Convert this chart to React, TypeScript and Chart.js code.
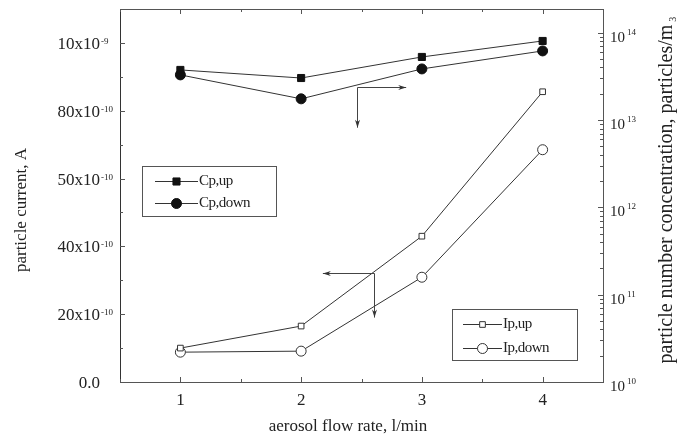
import React, { useEffect, useRef } from 'react';
import { Chart, registerables } from 'chart.js';
Chart.register(...registerables);

// ---- data ----
const flowRates = [1, 2, 3, 4]; // l/min
const ipUp = [10, 16.5, 43, 85.6]; // x10^-10 A
const ipDown = [8.8, 9.1, 30.9, 68.5]; // x10^-10 A
const cpUp = [3.75e13, 3.03e13, 5.28e13, 8.05e13]; // particles/m^3
const cpDown = [3.29e13, 1.75e13, 3.85e13, 6.19e13]; // particles/m^3

const xTicks = [1, 2, 3, 4];
const xMinorTicks = [0.5, 1.5, 2.5, 3.5, 4.5];
const leftTicks = [0, 20, 40, 60, 80, 100];
const leftTickMain = ['0.0', '20x10', '40x10', '50x10', '80x10', '10x10'];
const leftTickSup = ['', '-10', '-10', '-10', '-10', '-9'];
const leftMinorTicks = [10, 30, 50, 70, 90];
const rightTickExps = [10, 11, 12, 13, 14];

// annotation arrows in data units (x axis, left axis)
const cpArrowFrom = [2.46, 87];
const cpArrowTo = [2.87, 75];
const ipArrowFrom = [2.6, 32];
const ipArrowTo = [2.18, 19];

const serif = '"Liberation Serif", "Times New Roman", serif';
const ink = '#222';
const axisColor = '#555';
const lineColor = '#333';

function drawMarker(ctx: CanvasRenderingContext2D, style: string, x: number, y: number, r: number, filled: boolean) {
  ctx.save();
  ctx.beginPath();
  if (style === 'rect') {
    const s = r * Math.SQRT1_2;
    ctx.rect(x - s, y - s, 2 * s, 2 * s);
  } else {
    ctx.arc(x, y, r, 0, Math.PI * 2);
  }
  ctx.fillStyle = filled ? '#111' : '#fff';
  ctx.fill();
  ctx.lineWidth = 1;
  ctx.strokeStyle = filled ? '#111' : lineColor;
  ctx.stroke();
  ctx.restore();
}

function arrowHead(ctx: CanvasRenderingContext2D, x: number, y: number, dx: number, dy: number) {
  const len = 8, half = 2.5;
  const nx = -dy, ny = dx;
  ctx.beginPath();
  ctx.moveTo(x, y);
  ctx.lineTo(x - dx * len + nx * half, y - dy * len + ny * half);
  ctx.lineTo(x - dx * len * 0.7, y - dy * len * 0.7);
  ctx.lineTo(x - dx * len - nx * half, y - dy * len - ny * half);
  ctx.closePath();
  ctx.fill();
}

const decor = {
  id: 'decor',
  afterDraw(chart: any) {
    const ctx: CanvasRenderingContext2D = chart.ctx;
    const { left, right, top, bottom } = chart.chartArea;
    const xs = chart.scales.x, ys = chart.scales.y, y1 = chart.scales.y1;
    const R = (v: number) => Math.round(v) + 0.5;
    ctx.save();
    // frame
    ctx.strokeStyle = axisColor;
    ctx.lineWidth = 1;
    ctx.strokeRect(R(left), R(top), Math.round(right - left), Math.round(bottom - top));
    ctx.strokeStyle = '#333';
    ctx.beginPath();
    ctx.moveTo(R(left), R(top));
    ctx.lineTo(R(left), R(bottom));
    ctx.stroke();

    // x ticks (bottom and top, inward)
    ctx.strokeStyle = axisColor;
    ctx.beginPath();
    xTicks.forEach(v => {
      const px = R(xs.getPixelForValue(v));
      ctx.moveTo(px, bottom); ctx.lineTo(px, bottom - 5);
      ctx.moveTo(px, top); ctx.lineTo(px, top + 5);
    });
    xMinorTicks.forEach(v => {
      const px = R(xs.getPixelForValue(v));
      ctx.moveTo(px, bottom); ctx.lineTo(px, bottom - 3);
      ctx.moveTo(px, top); ctx.lineTo(px, top + 3);
    });
    // left ticks
    leftTicks.forEach(v => {
      const py = R(ys.getPixelForValue(v));
      ctx.moveTo(left, py); ctx.lineTo(left + 5, py);
    });
    leftMinorTicks.forEach(v => {
      const py = R(ys.getPixelForValue(v));
      ctx.moveTo(left, py); ctx.lineTo(left + 3, py);
    });
    // right log ticks
    rightTickExps.forEach(e => {
      const py = R(y1.getPixelForValue(Math.pow(10, e)));
      ctx.moveTo(right, py); ctx.lineTo(right - 5, py);
      for (let m = 2; m <= 9; m++) {
        const v = m * Math.pow(10, e);
        if (v > y1.max) break;
        const pm = R(y1.getPixelForValue(v));
        ctx.moveTo(right, pm); ctx.lineTo(right - 3, pm);
      }
    });
    ctx.stroke();

    // tick labels
    ctx.fillStyle = ink;
    ctx.textBaseline = 'alphabetic';
    xTicks.forEach(v => {
      ctx.font = `17px ${serif}`;
      ctx.textAlign = 'center';
      ctx.fillText(String(v), xs.getPixelForValue(v), 405);
    });
    leftTicks.forEach((v, i) => {
      const py = ys.getPixelForValue(v);
      ctx.font = `17px ${serif}`;
      ctx.textAlign = 'right';
      ctx.fillText(leftTickMain[i], 100, py + 6);
      if (leftTickSup[i]) {
        ctx.font = `9px ${serif}`;
        ctx.textAlign = 'left';
        ctx.fillText(leftTickSup[i], 101, py + 1);
      }
    });
    rightTickExps.forEach(e => {
      const py = y1.getPixelForValue(Math.pow(10, e));
      ctx.textAlign = 'left';
      ctx.font = `15px ${serif}`;
      ctx.fillText('10', 610, py + 9);
      ctx.font = `9px ${serif}`;
      ctx.fillText(String(e), 627, py + 2);
    });

    // axis titles
    ctx.font = `17px ${serif}`;
    ctx.textAlign = 'center';
    ctx.textBaseline = 'middle';
    ctx.fillText('aerosol flow rate, l/min', 348, 427);
    ctx.save();
    ctx.translate(22, 210);
    ctx.rotate(-Math.PI / 2);
    ctx.fillText('particle current, A', 0, 0);
    ctx.restore();
    ctx.save();
    ctx.translate(667, 194);
    ctx.rotate(-Math.PI / 2);
    ctx.font = `20px ${serif}`;
    const rt = 'particle number concentration, particles/m';
    ctx.fillText(rt, 0, 0);
    const w = ctx.measureText(rt).width;
    ctx.font = `10px ${serif}`;
    ctx.textAlign = 'left';
    ctx.fillText('3', w / 2 + 3, 6);
    ctx.restore();

    // arrows
    ctx.strokeStyle = '#444';
    ctx.fillStyle = '#333';
    const drawArrowPair = (from: number[], to: number[]) => {
      const fx = R(xs.getPixelForValue(from[0]));
      const fy = R(ys.getPixelForValue(from[1]));
      const tx = xs.getPixelForValue(to[0]);
      const ty = ys.getPixelForValue(to[1]);
      ctx.beginPath();
      ctx.moveTo(fx, fy); ctx.lineTo(tx, fy);
      ctx.moveTo(fx, fy); ctx.lineTo(fx, ty);
      ctx.stroke();
      arrowHead(ctx, tx, fy, tx > fx ? 1 : -1, 0);
      arrowHead(ctx, fx, ty, 0, 1);
    };
    drawArrowPair(cpArrowFrom, cpArrowTo);
    drawArrowPair(ipArrowFrom, ipArrowTo);

    // legends
    const legendBox = (x0: number, y0: number, x1: number, y1b: number, rows: number[], lx0: number, lx1: number, entries: any[]) => {
      ctx.fillStyle = '#fff';
      ctx.fillRect(x0, y0, x1 - x0, y1b - y0);
      ctx.strokeStyle = axisColor;
      ctx.strokeRect(x0 + 0.5, y0 + 0.5, x1 - x0, y1b - y0);
      entries.forEach((en, i) => {
        const yy = rows[i] + 0.5;
        ctx.strokeStyle = lineColor;
        ctx.beginPath();
        ctx.moveTo(lx0, yy); ctx.lineTo(lx1, yy);
        ctx.stroke();
        drawMarker(ctx, en.style, (lx0 + lx1) / 2, yy, en.r, en.filled);
        ctx.fillStyle = ink;
        ctx.font = `15px ${serif}`;
        ctx.textAlign = 'left';
        ctx.textBaseline = 'middle';
        (ctx as any).letterSpacing = '-0.5px';
        ctx.fillText(en.label, lx1 + 1, yy);
        (ctx as any).letterSpacing = '0px';
      });
    };
    const ds = chart.data.datasets;
    legendBox(142, 166, 276, 216, [181, 203], 155, 198, [
      { label: ds[0].label, style: 'rect', r: 5, filled: true },
      { label: ds[1].label, style: 'circle', r: 5, filled: true },
    ]);
    legendBox(452, 309, 577, 360, [324, 348], 463, 502, [
      { label: ds[2].label, style: 'rect', r: 4, filled: false },
      { label: ds[3].label, style: 'circle', r: 5, filled: false },
    ]);
    ctx.restore();
  },
};

export default function App() {
  const ref = useRef<HTMLCanvasElement>(null);
  useEffect(() => {
    const toPts = (ys: number[]) => flowRates.map((x, i) => ({ x, y: ys[i] }));
    const base = { borderColor: lineColor, borderWidth: 1, tension: 0, pointBorderWidth: 1 };
    const chart = new Chart(ref.current as HTMLCanvasElement, {
      type: 'line',
      data: {
        datasets: [
          { ...base, label: 'Cp,up', data: toPts(cpUp), yAxisID: 'y1', pointStyle: 'rect', pointRadius: 5, pointBackgroundColor: '#111', pointBorderColor: '#111' },
          { ...base, label: 'Cp,down', data: toPts(cpDown), yAxisID: 'y1', pointStyle: 'circle', pointRadius: 5, pointBackgroundColor: '#111', pointBorderColor: '#111' },
          { ...base, label: 'Ip,up', data: toPts(ipUp), yAxisID: 'y', pointStyle: 'rect', pointRadius: 4, pointBackgroundColor: '#fff', pointBorderColor: lineColor },
          { ...base, label: 'Ip,down', data: toPts(ipDown), yAxisID: 'y', pointStyle: 'circle', pointRadius: 5, pointBackgroundColor: '#fff', pointBorderColor: lineColor },
        ] as any,
      },
      options: {
        responsive: false,
        animation: false,
        layout: { padding: { left: 120, right: 75, top: 9, bottom: 58 } },
        plugins: { legend: { display: false }, tooltip: { enabled: false } },
        scales: {
          x: { type: 'linear', min: 0.5, max: 4.5, display: false },
          y: { type: 'linear', min: 0, max: 110, display: false },
          y1: { type: 'logarithmic', min: 1e10, max: 1.87e14, display: false },
        },
      },
      plugins: [decor],
    });
    return () => chart.destroy();
  }, []);
  return (
    <div style={{ position: 'fixed', left: 0, top: 0, width: 678, height: 440, background: '#fff' }}>
      <canvas ref={ref} width={678} height={440} style={{ display: 'block', width: 678, height: 440 }} />
    </div>
  );
}
